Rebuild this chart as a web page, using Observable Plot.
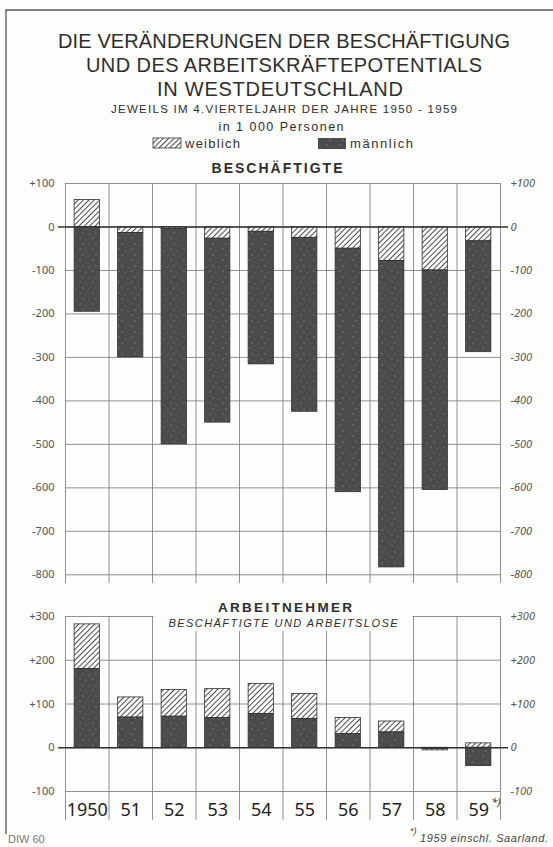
<!DOCTYPE html>
<html><head><meta charset="utf-8">
<script src="https://cdn.jsdelivr.net/npm/d3@7"></script>
<script src="https://cdn.jsdelivr.net/npm/@observablehq/plot@0.6"></script>
<style>
html,body{margin:0;padding:0;background:#fdfdfb;}
#page{position:relative;width:553px;height:847px;overflow:hidden;background:#fdfdfb;font-family:"Liberation Sans",Arial,sans-serif;color:#2b2b2b;}
.abs{position:absolute;}
</style></head>
<body><div id="page">
<svg width="0" height="0" style="position:absolute;left:0;top:0">
 <defs>
  <pattern id="hatch" patternUnits="userSpaceOnUse" width="3.8" height="3.8" patternTransform="rotate(45)">
    <rect width="3.8" height="3.8" fill="#fdfdfb"/>
    <line x1="0.5" y1="0" x2="0.5" y2="3.8" stroke="#3a3a3a" stroke-width="0.9"/>
  </pattern>
  <pattern id="speckle" patternUnits="userSpaceOnUse" width="13" height="11">
    <rect width="13" height="11" fill="#4b4b4b"/>
    <circle cx="2" cy="2" r="0.7" fill="#858585"/>
    <circle cx="8" cy="4" r="0.6" fill="#7a7a7a"/>
    <circle cx="5" cy="8" r="0.8" fill="#808080"/>
    <circle cx="11" cy="9" r="0.6" fill="#7c7c7c"/>
  </pattern>
 </defs>
</svg>
<div id="topPanel" class="abs" style="left:0;top:170px"></div>
<div id="bottomPanel" class="abs" style="left:0;top:600px"></div>
<svg id="overlay" class="abs" style="left:0;top:0;pointer-events:none" width="553" height="847" font-family="Liberation Sans, Arial, sans-serif">
  <path d="M6,834 V10 H553" fill="none" stroke="#555" stroke-width="1.3"/>
  <g fill="#2e2e2e" text-anchor="middle">
    <text x="284" y="48" font-size="20" textLength="452">DIE VERÄNDERUNGEN DER BESCHÄFTIGUNG</text>
    <text x="284" y="72" font-size="20" textLength="396">UND DES ARBEITSKRÄFTEPOTENTIALS</text>
    <text x="280" y="96" font-size="20" textLength="246">IN WESTDEUTSCHLAND</text>
    <text x="284" y="113" font-size="11.5" textLength="346">JEWEILS IM 4.VIERTELJAHR DER JAHRE 1950 - 1959</text>
    <text x="281" y="131" font-size="12.5" textLength="125">in 1 000 Personen</text>
    <text x="277" y="173" font-size="14" font-weight="bold" textLength="131">BESCHÄFTIGTE</text>
  </g>
  <rect x="153" y="138" width="28" height="10" fill="url(#hatch)" stroke="#333" stroke-width="0.8"/>
  <text x="185" y="148" font-size="13" fill="#333" textLength="55">weiblich</text>
  <rect x="318" y="138" width="28" height="11" fill="url(#speckle)"/>
  <text x="350" y="148" font-size="13" fill="#333" textLength="63">männlich</text>
  <rect x="153.5" y="597" width="259" height="34" fill="#fdfdfb"/>
  <g fill="#2e2e2e" text-anchor="middle">
    <text x="285" y="612" font-size="13.5" font-weight="bold" textLength="134">ARBEITNEHMER</text>
    <text x="283" y="627" font-size="11" font-style="italic" textLength="229">BESCHÄFTIGTE UND ARBEITSLOSE</text>
  </g>
  <text x="8" y="843" font-size="11" fill="#777">DIW 60</text>
  <text x="410" y="834" font-size="9" font-style="italic" fill="#444">*)</text>
  <text x="420" y="842" font-size="11" font-style="italic" fill="#444" textLength="128">1959 einschl. Saarland.</text>
</svg>
</div>
<script>
const years = ["1950","1951","1952","1953","1954","1955","1956","1957","1958","1959"];
const xLabels = ["1950","51","52","53","54","55","56","57","58","59"];
const sexes = ["weiblich","männlich"];
// Beschäftigte (change vs previous year, 1000 persons)
const beschW = [62,-14,-5,-27,-11,-25,-50,-78,-100,-33];
const beschM = [-195,-286,-495,-423,-305,-400,-560,-705,-505,-255];
// Arbeitnehmer (Beschäftigte und Arbeitslose)
const arbW = [102,46,61,66,69,57,37,25,-3,10];
const arbM = [180,69,71,68,77,66,31,35,-3,-42];
const beschTicks = [100,0,-100,-200,-300,-400,-500,-600,-700,-800];
const arbTicks = [300,200,100,0,-100];

const table = (Wv, Mv) => years.flatMap((y, i) => [
  {year: y, sex: "weiblich", value: Wv[i]},
  {year: y, sex: "männlich", value: Mv[i]}
]);
const fmt = d => d > 0 ? "+" + d : d < 0 ? "-" + Math.abs(d) : "0";
const PW = 553, ML = 65, MR = 53;
const step = (PW - ML - MR) / years.length;
const grid = "#858585";
const xScale = {domain: years, paddingInner: 0.42, paddingOuter: 0.21, round: false, axis: null};
const colorScale = {domain: sexes, range: ["url(#hatch)", "url(#speckle)"]};
const axes = ticks => [
  Plot.axisY(ticks, {anchor: "left", tickSize: 0, tickPadding: 11, tickFormat: fmt, fontSize: 11, color: "#555", label: null}),
  Plot.axisY(ticks, {anchor: "right", tickSize: 0, tickPadding: 10, tickFormat: fmt, fontSize: 11, color: "#555", fontStyle: "italic", label: null})
];

const topPlot = Plot.plot({
  width: PW, height: 415, marginLeft: ML, marginRight: MR, marginTop: 13, marginBottom: 2,
  style: {background: "transparent", overflow: "visible"},
  x: xScale,
  y: {domain: [-820, 100], axis: null, label: null},
  color: colorScale,
  marks: [
    Plot.ruleY(beschTicks, {stroke: grid, strokeWidth: 0.9}),
    Plot.ruleX(years, {x: d => d, dx: -step / 2, stroke: grid, strokeWidth: 0.9}),
    Plot.ruleX([years[years.length - 1]], {x: d => d, dx: step / 2, stroke: grid, strokeWidth: 0.9}),
    // women nearest the zero line
    Plot.barY(table(beschW, beschM), {x: "year", y: "value", fill: "sex", order: ["weiblich", "männlich"], stroke: "#2e2e2e", strokeWidth: 0.8}),
    Plot.ruleY([0], {stroke: "#333", strokeWidth: 1.4, insetLeft: -7, insetRight: -8}),
    ...axes(beschTicks)
  ]
});
document.getElementById("topPanel").append(topPlot);

const bottomPlot = Plot.plot({
  width: PW, height: 230, marginLeft: ML, marginRight: MR, marginTop: 16, marginBottom: 39,
  style: {background: "transparent", overflow: "visible"},
  x: xScale,
  y: {domain: [-100, 300], axis: null, label: null},
  color: colorScale,
  marks: [
    Plot.ruleY(arbTicks, {stroke: grid, strokeWidth: 0.9}),
    Plot.ruleX(years, {x: d => d, y1: -166, y2: 300, dx: -step / 2, stroke: grid, strokeWidth: 0.9}),
    Plot.ruleX([years[years.length - 1]], {x: d => d, y1: -166, y2: 300, dx: step / 2, stroke: grid, strokeWidth: 0.9}),
    // men nearest the zero line
    Plot.barY(table(arbW, arbM), {x: "year", y: "value", fill: "sex", order: ["männlich", "weiblich"], stroke: "#2e2e2e", strokeWidth: 0.8}),
    Plot.ruleY([0], {stroke: "#333", strokeWidth: 1.4, insetLeft: -7, insetRight: -8}),
    ...axes(arbTicks),
    Plot.text(years, {x: d => d, y: -100, dy: 19, text: (d, i) => xLabels[i], fontSize: 18, fill: "#1e1e1e"}),
    Plot.text(["*)"], {x: () => years[years.length - 1], y: -100, dy: 11, dx: 17, fontSize: 11, fontStyle: "italic", fill: "#333"})
  ]
});
document.getElementById("bottomPanel").append(bottomPlot);
</script>
</body></html>
